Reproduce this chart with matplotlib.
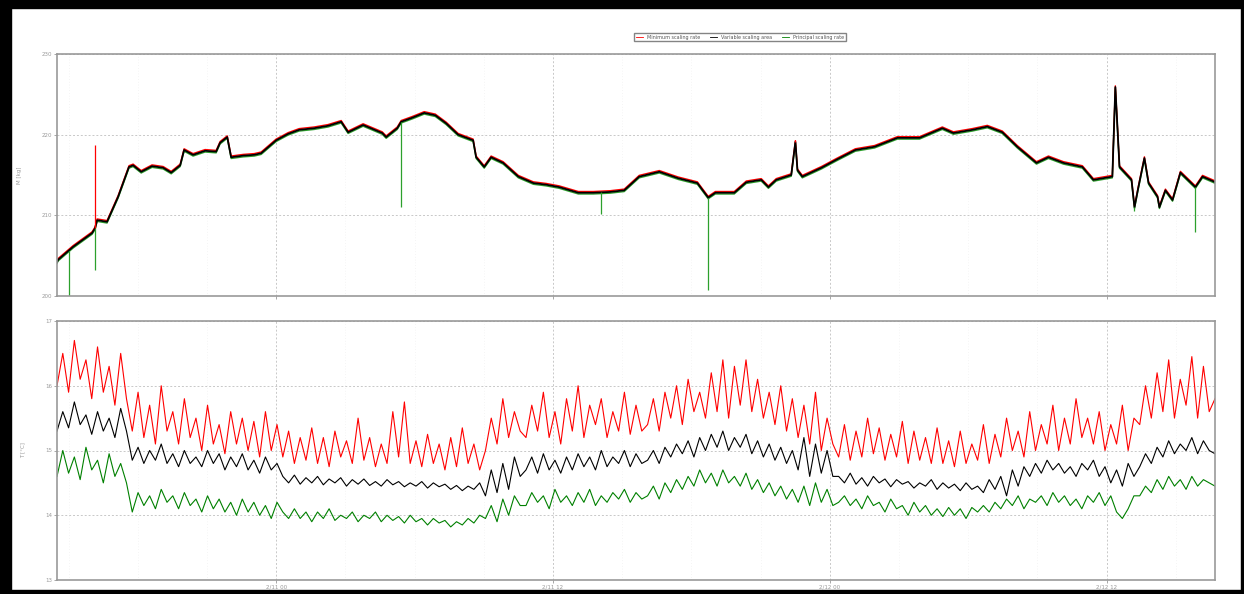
import numpy as np
import matplotlib.pyplot as plt
import matplotlib.transforms as mtransforms
from matplotlib.patches import Rectangle
from matplotlib.lines import Line2D

# --- dados: curva superior (horas desde 2/11 00h) ---
t_top = [-9.5, -9.45, -8.8, -7.98, -7.85, -7.76, -7.33, -6.85, -6.38, -6.2, -5.85, -5.38, -4.9,
         -4.55, -4.16, -3.99, -3.6, -3.08, -2.6, -2.43, -2.12, -1.95, -1.43, -0.95, -0.65, 0.0,
         0.52, 1.0, 1.65, 2.25, 2.82, 3.12, 3.77, 4.6, 4.77, 5.25, 5.42, 5.9, 6.42, 6.9, 7.37,
         7.89, 8.54, 8.67, 9.02, 9.32, 9.84, 10.5, 11.15, 11.71, 12.27, 13.1, 13.75, 14.48, 15.09,
         15.74, 16.61, 17.43, 18.26, 18.73, 19.04, 19.86, 20.38, 21.03, 21.34, 21.68, 22.33, 22.51,
         22.6, 22.81, 23.64, 24.29, 25.11, 25.94, 26.93, 27.89, 28.88, 29.36, 30.18, 30.83, 31.48,
         32.13, 32.96, 33.48, 34.13, 34.95, 35.43, 36.25, 36.38, 36.56, 37.08, 37.21, 37.38, 37.64,
         37.82, 38.21, 38.29, 38.55, 38.86, 39.2, 39.85, 40.16, 40.72]
media_top = [204.2, 204.5, 206.1, 207.8, 208.4, 209.4, 209.2, 212.3, 216.0, 216.2, 215.4, 216.1, 215.9,
             215.3, 216.2, 218.1, 217.5, 218.0, 217.9, 219.0, 219.7, 217.2, 217.4, 217.5, 217.7, 219.3,
             220.1, 220.6, 220.8, 221.1, 221.6, 220.3, 221.2, 220.2, 219.7, 220.8, 221.6, 222.1, 222.7, 222.4, 221.4,
             220.0, 219.3, 217.2, 216.0, 217.2, 216.5, 214.8, 214.0, 213.8, 213.5, 212.8, 212.8, 212.9, 213.1,
             214.8, 215.4, 214.6, 214.0, 212.2, 212.8, 212.8, 214.1, 214.4, 213.5, 214.4, 215.0, 219.1,
             215.6, 214.8, 215.9, 216.9, 218.1, 218.5, 219.6, 219.6, 220.8, 220.2, 220.6, 221.0, 220.3,
             218.5, 216.5, 217.2, 216.5, 216.0, 214.4, 214.8, 225.9, 216.0, 214.4, 211.0, 213.5, 217.1,
             214.0, 212.3, 211.0, 213.1, 211.9, 215.3, 213.5, 214.8, 214.1]

# picos isolados (max em vermelho, min em verde)
pico_max_t = [-7.85, 36.38, 22.51]
pico_max_v = [218.7, 225.9, 219.3]
pico_min_t = [-9.0, -7.85, 5.42, 14.1, 18.73, 37.21, 39.85]
pico_min_v = [200.0, 203.2, 211.0, 210.2, 200.8, 210.5, 207.9]

# --- dados: curvas inferiores (passo de 0.25 h) ---
vermelho = [16.0, 16.5, 15.9, 16.7, 16.1, 16.4, 15.8, 16.6, 15.9, 16.3, 15.7, 16.5, 15.8,
            15.3, 15.9, 15.2, 15.7, 15.1, 16.0, 15.3, 15.6, 15.1, 15.8, 15.2, 15.5, 15.0, 15.7, 15.1, 15.4,
            14.95, 15.6, 15.1, 15.5, 15.0, 15.45, 14.9, 15.6, 15.0, 15.4,
            14.9, 15.3, 14.8, 15.2, 14.85, 15.35, 14.8, 15.2, 14.75, 15.3, 14.9, 15.15, 14.8, 15.5, 14.85,
            15.2, 14.75, 15.1, 14.8, 15.6, 14.9, 15.75, 14.8, 15.15, 14.75, 15.25, 14.8, 15.1, 14.7, 15.2,
            14.75, 15.35, 14.8, 15.1, 14.7,
            15.0, 15.5, 15.1, 15.8, 15.2, 15.6, 15.3,
            15.2, 15.7, 15.3, 15.9, 15.2, 15.6, 15.1, 15.8, 15.3, 16.0, 15.2, 15.7, 15.4, 15.8, 15.2, 15.6,
            15.3, 15.9, 15.25, 15.7, 15.3,
            15.4, 15.8, 15.3, 15.9, 15.5, 16.0, 15.4, 16.1, 15.6, 15.9, 15.5, 16.2, 15.6, 16.4, 15.5, 16.3,
            15.7, 16.4, 15.6, 16.1, 15.5, 15.9, 15.4, 16.0, 15.3, 15.8,
            15.2, 15.7, 15.1, 15.9, 15.0, 15.5, 15.1,
            14.9, 15.4, 14.85, 15.3, 14.9, 15.5, 14.95, 15.35, 14.85, 15.25, 14.9, 15.45, 14.8, 15.3, 14.85,
            15.2, 14.8, 15.35, 14.8, 15.15, 14.75, 15.3, 14.8, 15.1, 14.85, 15.4, 14.8, 15.25,
            14.9, 15.5, 15.0, 15.3, 14.9, 15.6, 15.0, 15.4, 15.1, 15.7, 15.0, 15.5, 15.1, 15.8, 15.2, 15.5,
            15.1, 15.6, 15.0, 15.4, 15.1, 15.7, 15.0, 15.5,
            15.4, 16.0, 15.5, 16.2, 15.6, 16.4, 15.5, 16.1, 15.7, 16.45, 15.5, 16.3, 15.6, 15.8]
preto = [15.3, 15.6, 15.35, 15.75, 15.4, 15.55, 15.25, 15.6, 15.3, 15.5, 15.2, 15.65, 15.3,
         14.85, 15.05, 14.8, 15.0, 14.85, 15.1, 14.8, 14.95, 14.75, 15.0, 14.8, 14.9, 14.75, 15.0, 14.8,
         14.95, 14.7, 14.9, 14.75, 14.95, 14.7, 14.85, 14.65, 14.9, 14.7, 14.8,
         14.6, 14.5, 14.62, 14.48, 14.58, 14.5, 14.6, 14.47, 14.56, 14.5, 14.58, 14.45, 14.55, 14.48, 14.56,
         14.46, 14.52, 14.45, 14.55, 14.47, 14.52, 14.44, 14.5, 14.45, 14.52, 14.42, 14.5, 14.44, 14.48,
         14.4, 14.46, 14.38, 14.45, 14.4, 14.5,
         14.3, 14.7, 14.35, 14.8, 14.4, 14.9, 14.6,
         14.7, 14.9, 14.65, 14.95, 14.7, 14.85, 14.65, 14.9, 14.7, 14.95, 14.75, 14.9, 14.7, 15.0, 14.75,
         14.9, 14.8, 15.0, 14.75, 14.95, 14.8,
         14.85, 15.0, 14.8, 15.05, 14.9, 15.1, 14.95, 15.15, 14.9, 15.2, 15.0, 15.25, 15.05, 15.3, 15.0,
         15.2, 15.05, 15.25, 14.95, 15.15, 14.9, 15.1, 14.85, 15.05, 14.8, 15.0,
         14.7, 15.2, 14.6, 15.1, 14.65, 15.0, 14.6,
         14.6, 14.5, 14.65, 14.48, 14.58, 14.45, 14.6, 14.5, 14.56, 14.44, 14.55, 14.48, 14.52, 14.42, 14.5,
         14.45, 14.55, 14.4, 14.5, 14.42, 14.48, 14.38, 14.5, 14.4, 14.45, 14.35, 14.55, 14.4,
         14.6, 14.3, 14.7, 14.45, 14.75, 14.6, 14.8, 14.65, 14.85, 14.7, 14.8, 14.65, 14.75, 14.6, 14.8,
         14.7, 14.85, 14.6, 14.75, 14.5, 14.7, 14.45, 14.8, 14.6,
         14.75, 14.95, 14.8, 15.05, 14.9, 15.15, 14.95, 15.1, 15.0, 15.2, 14.95, 15.15, 15.0, 14.95]
verde = [14.6, 15.0, 14.65, 14.9, 14.55, 15.05, 14.7, 14.85, 14.5, 14.95, 14.6, 14.8, 14.5,
         14.05, 14.35, 14.15, 14.3, 14.1, 14.4, 14.2, 14.3, 14.1, 14.35, 14.15, 14.25, 14.05, 14.3, 14.1,
         14.25, 14.05, 14.2, 14.0, 14.25, 14.05, 14.2, 14.0, 14.15, 13.95, 14.2,
         14.05, 13.95, 14.1, 13.95, 14.05, 13.9, 14.05, 13.95, 14.1, 13.92, 14.0, 13.95, 14.05, 13.9, 14.0,
         13.95, 14.05, 13.9, 14.0, 13.92, 13.98, 13.88, 14.0, 13.9, 13.95, 13.85, 13.95, 13.88, 13.92,
         13.82, 13.9, 13.85, 13.95, 13.88, 14.0,
         13.95, 14.15, 13.9, 14.25, 14.0, 14.3, 14.15,
         14.15, 14.35, 14.2, 14.3, 14.1, 14.4, 14.2, 14.3, 14.15, 14.35, 14.2, 14.4, 14.15, 14.3, 14.2,
         14.35, 14.25, 14.4, 14.2, 14.35, 14.25,
         14.3, 14.45, 14.25, 14.5, 14.35, 14.55, 14.4, 14.6, 14.45, 14.7, 14.5, 14.65, 14.45, 14.7, 14.5,
         14.6, 14.45, 14.65, 14.4, 14.55, 14.35, 14.5, 14.3, 14.45, 14.25, 14.4,
         14.2, 14.45, 14.15, 14.5, 14.2, 14.4, 14.15,
         14.2, 14.3, 14.15, 14.25, 14.1, 14.3, 14.15, 14.2, 14.05, 14.25, 14.1, 14.15, 14.0, 14.2, 14.05,
         14.15, 14.0, 14.1, 13.98, 14.12, 14.0, 14.1, 13.95, 14.12, 14.05, 14.15, 14.05, 14.2,
         14.1, 14.25, 14.15, 14.3, 14.1, 14.25, 14.2, 14.3, 14.15, 14.35, 14.2, 14.3, 14.15, 14.25, 14.1,
         14.3, 14.2, 14.35, 14.15, 14.3, 14.05, 13.95, 14.1, 14.3,
         14.3, 14.45, 14.35, 14.55, 14.4, 14.6, 14.45, 14.55, 14.4, 14.6, 14.45, 14.55, 14.5, 14.45]

x_ticks = [0, 12, 24, 36]
x_labels = ['2/11 00', '2/11 12', '2/12 00', '2/12 12']
legenda = ['Minimum scaling rate', 'Variable scaling area', 'Principal scaling rate']

# --- figura ---
fig = plt.figure(figsize=(12.44, 5.94), dpi=100)
fig.patches.append(Rectangle((0, 0), 11 / 1244, 1, transform=fig.transFigure, color='black', zorder=10))
fig.patches.append(Rectangle((0, 586 / 594), 1, 8 / 594, transform=fig.transFigure, color='black', zorder=10))
fig.patches.append(Rectangle((0, 0), 1, 4 / 594, transform=fig.transFigure, color='black', zorder=10))
fig.patches.append(Rectangle((1241 / 1244, 0), 3 / 1244, 1, transform=fig.transFigure, color='black', zorder=10))

ax1 = fig.add_axes([57 / 1244, 298 / 594, 1158 / 1244, 242 / 594])
ax2 = fig.add_axes([57 / 1244, 14 / 594, 1158 / 1244, 259 / 594])

for ax in (ax1, ax2):
    ax.set_xlim(-9.5, 40.7)
    ax.set_xticks(x_ticks)
    ax.set_xticks(np.arange(-9, 41, 3), minor=True)
    ax.grid(True, which='major', color='#c8c8c8', linestyle=(0, (2, 2)), linewidth=0.7)
    ax.grid(True, which='minor', axis='x', color='#ececec', linestyle=(0, (1, 3)), linewidth=0.5)
    for s in ax.spines.values():
        s.set_color('#999999')
        s.set_linewidth(1.2)
    ax.tick_params(colors='#999999', labelsize=4, length=2, width=0.6, which='both', pad=1.5)
    ax.tick_params(which='minor', length=0)

# painel superior
up = mtransforms.offset_copy(ax1.transData, fig=fig, x=0, y=0.9, units='points')
dn = mtransforms.offset_copy(ax1.transData, fig=fig, x=0, y=-0.9, units='points')
ax1.plot(t_top, media_top, color='#2ca02c', lw=1.0, transform=dn)
ax1.plot(t_top, media_top, color='red', lw=1.0, transform=up)
ax1.plot(t_top, media_top, color='black', lw=1.3)
ax1.vlines(pico_min_t, pico_min_v, np.interp(pico_min_t, t_top, media_top), color='#2ca02c', lw=0.9)
ax1.vlines(pico_max_t, np.interp(pico_max_t, t_top, media_top), pico_max_v, color='red', lw=0.9)
ax1.set_ylim(200, 230)
ax1.set_yticks([200, 210, 220, 230])
ax1.set_xticklabels([])
ax1.set_ylabel('M [kg]', fontsize=4, color='#999999', labelpad=14)

# painel inferior
for serie, cor in ((vermelho, 'red'), (verde, 'green'), (preto, 'black')):
    t = np.linspace(-9.5, 40.7, len(serie))
    ax2.plot(t, serie, color=cor, lw=0.8)
ax2.set_ylim(13, 17)
ax2.set_yticks([13, 14, 15, 16, 17])
ax2.set_xticklabels(x_labels)
ax2.set_ylabel('T [°C]', fontsize=4, color='#999999', labelpad=14)

handles = [Line2D([], [], color=c, lw=0.6) for c in ('red', 'black', 'green')]
leg = fig.legend(handles, legenda, loc='center', bbox_to_anchor=(740 / 1244, 557 / 594), ncol=3,
                 fontsize=3.5, frameon=True, fancybox=False, edgecolor='#666666',
                 handlelength=1.5, columnspacing=2.0, borderpad=0.4)
for txt in leg.get_texts():
    txt.set_color('#555555')

fig.savefig('out.png', dpi=100)
